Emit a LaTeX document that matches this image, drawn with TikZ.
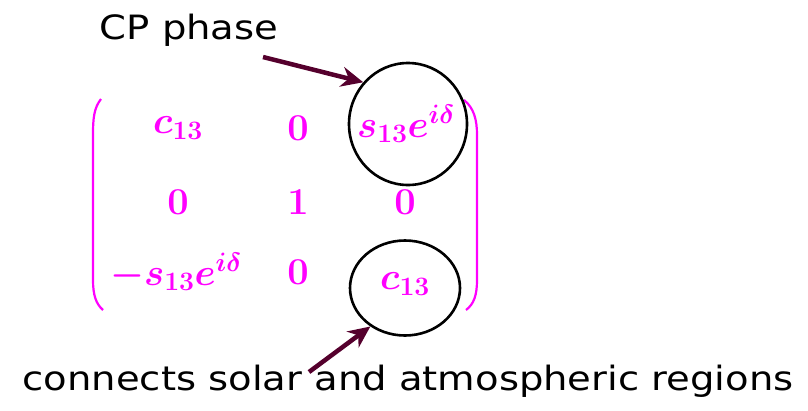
\documentclass[tikz,border=0pt]{standalone}
\usepackage{fix-cm}
\usepackage{fontspec}
\usetikzlibrary{arrows.meta,shapes.geometric}
\newfontfamily\labelfont[FakeStretch=1.15]{DejaVu Sans}
\definecolor{entrymagenta}{RGB}{255,0,255}
\definecolor{arrowmaroon}{RGB}{85,0,45}
\tikzset{
  entry/.style={text=entrymagenta,font=\fontsize{38}{44}\selectfont\boldmath},
  ring/.style={draw=black,line width=2.6pt,ellipse,inner sep=0pt},
  pointer/.style={draw=arrowmaroon,line width=4.5pt,-{Stealth[length=22pt,width=20pt]}},
  caption/.style={font=\labelfont\fontsize{33.5}{40}\selectfont},
  paren/.style={draw=entrymagenta,line width=2.2pt}
}
\begin{document}
\begin{tikzpicture}[x=1pt,y=-1pt]
\useasboundingbox (0,0) rectangle (808,410);

% matrix entries
\node[entry] (a11) at (178,128) {$c_{13}$};
\node[entry] (a12) at (298,128) {$0$};
\node[entry] (a13) at (406,124) {$s_{13}e^{i\delta}$};
\node[entry] (a21) at (178,202) {$0$};
\node[entry] (a22) at (298,202) {$1$};
\node[entry] (a23) at (405,202) {$0$};
\node[entry] (a31) at (176,272) {$-s_{13}e^{i\delta}$};
\node[entry] (a32) at (298,272) {$0$};
\node[entry] (a33) at (405,284) {$c_{13}$};

% brackets
\draw[paren] (101,99) .. controls (94,108) and (93,118) .. (93,135) -- (93,280)
  .. controls (93,295) and (96,304) .. (103,310);
\draw[paren] (464,100) .. controls (474,108) and (477,120) .. (477,135) -- (477,280)
  .. controls (477,295) and (474,304) .. (466,310);

% rings
\node[ring,minimum width=118pt,minimum height=122pt] (phase) at (408,124) {};
\node[ring,minimum width=110pt,minimum height=95pt] (mix) at (405,288) {};

% labels
\node[caption] (cp) at (189,30) {CP phase};
\node[caption] (solar) at (408,381) {connects solar and atmospheric regions};

\coordinate (cptail) at (263,57);
\coordinate (solartail) at (309,372);
\draw[pointer] (cptail) -- (phase.137);
\draw[pointer] (solartail) -- (mix.228);
\end{tikzpicture}
\end{document}
